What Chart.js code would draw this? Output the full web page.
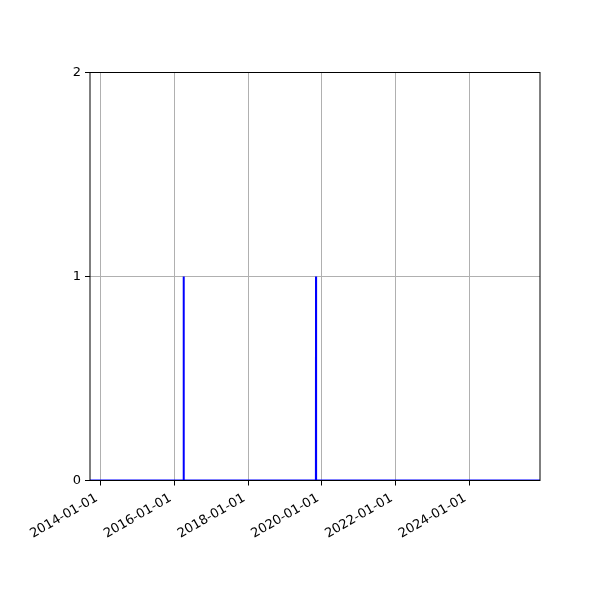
<!DOCTYPE html>
<html>
<head>
<meta charset="utf-8">
<script src="https://cdn.jsdelivr.net/npm/chart.js@4"></script>
<style>
  html, body { margin: 0; padding: 0; background: #fff; }
  #wrap { width: 600px; height: 600px; }
</style>
</head>
<body>
<div id="wrap"><canvas id="chart" width="600" height="600"></canvas></div>
<script>
// dates of the points and their values (0 baseline, 1 on event days)
const dates = ["2013-09-17", "2016-04-01", "2016-04-02", "2016-04-03",
               "2019-11-03", "2019-11-04", "2019-11-05", "2025-12-01"];
const values = [0, 0, 1, 0, 0, 1, 0, 0];
const tickDates = ["2014-01-01", "2016-01-01", "2018-01-01", "2020-01-01", "2022-01-01", "2024-01-01"];
const yTicks = [0, 1, 2];
const xMin = "2013-09-17";
const xMax = "2025-12-01";

const ms = d => Date.parse(d + "T00:00:00Z");
const fmt = v => new Date(v).toISOString().slice(0, 10);

const points = dates.map((d, i) => ({ x: ms(d), y: values[i] }));

// black box round the plot area, like the spines of the original
const frame = {
  id: "frame",
  afterDraw(chart) {
    const { ctx, chartArea: a } = chart;
    ctx.save();
    ctx.strokeStyle = "#000";
    ctx.lineWidth = 1;
    ctx.strokeRect(a.left, a.top, a.right - a.left, a.bottom - a.top);
    ctx.restore();
  }
};

Chart.defaults.font.family = "'DejaVu Sans', sans-serif";
Chart.defaults.font.size = 13;
Chart.defaults.color = "#000";

new Chart(document.getElementById("chart").getContext("2d"), {
  type: "line",
  data: {
    datasets: [{
      data: points,
      borderColor: "#0000ff",
      borderWidth: 2,
      pointRadius: 0,
      tension: 0,
      fill: false
    }]
  },
  options: {
    responsive: false,
    animation: false,
    layout: { padding: { left: 0, right: 60, top: 72.5, bottom: 0 } },
    plugins: { legend: { display: false }, tooltip: { enabled: false } },
    scales: {
      x: {
        type: "linear",
        min: ms(xMin),
        max: ms(xMax),
        afterBuildTicks(axis) {
          axis.ticks = tickDates.map(d => ({ value: ms(d) }));
        },
        afterFit(axis) { axis.height = 119.5; },
        ticks: {
          callback: v => fmt(v),
          maxRotation: 30,
          minRotation: 30,
          autoSkip: false,
          padding: 5,
          labelOffset: -4
        },
        grid: { color: "#b0b0b0", lineWidth: 1, tickColor: "#000", tickLength: 5 },
        border: { display: false }
      },
      y: {
        min: 0,
        max: 2,
        afterBuildTicks(axis) {
          axis.ticks = yTicks.map(v => ({ value: v }));
        },
        afterFit(axis) { axis.width = 90; },
        ticks: { padding: 4 },
        grid: { color: "#b0b0b0", lineWidth: 1, tickColor: "#000", tickLength: 5 },
        border: { display: false }
      }
    }
  },
  plugins: [frame]
});
</script>
</body>
</html>
